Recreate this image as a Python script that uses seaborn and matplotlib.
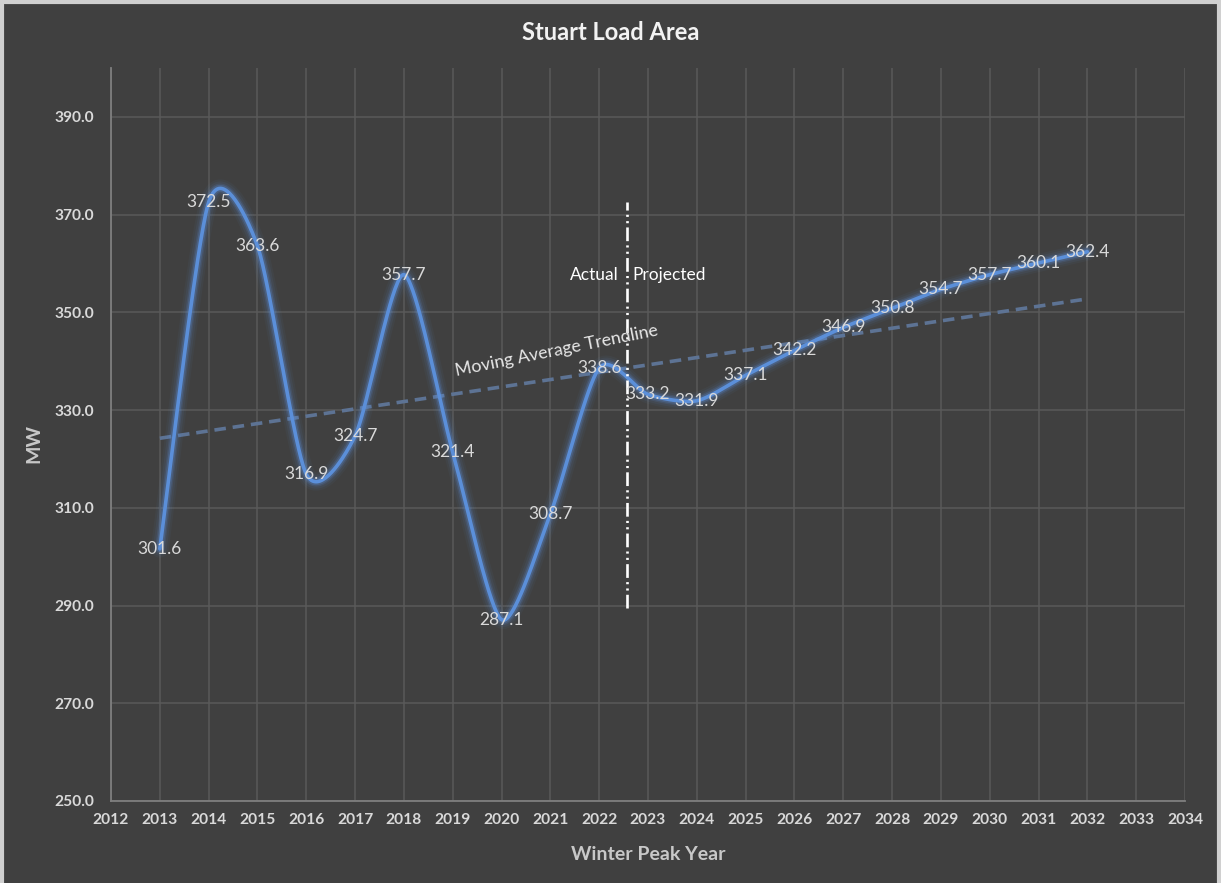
import numpy as np
import pandas as pd
import matplotlib
matplotlib.use("Agg")
import matplotlib.pyplot as plt
from matplotlib.lines import Line2D
import seaborn as sns

# Winter peak load, Stuart load area (MW)
years = [2013, 2014, 2015, 2016, 2017, 2018, 2019, 2020, 2021, 2022,
         2023, 2024, 2025, 2026, 2027, 2028, 2029, 2030, 2031, 2032]
peak_mw = [301.6, 372.5, 363.6, 316.9, 324.7, 357.7, 321.4, 287.1, 308.7, 338.6,
           333.2, 331.9, 337.1, 342.2, 346.9, 350.8, 354.7, 357.7, 360.1, 362.4]

# Boundary between recorded and forecast years
divider_x = [2022.57, 2022.57]
divider_y = [289.5, 372.5]

x_ticks = list(range(2012, 2035))
y_ticks = [250, 270, 290, 310, 330, 350, 370, 390]

BG = "#404040"
GRID = "#5a5a5a"
TEXT = "#d9d9d9"
LINE = "#5b8fd9"

sns.set_theme(style="dark", rc={
    "figure.facecolor": BG,
    "axes.facecolor": BG,
    "axes.edgecolor": "#808080",
    "grid.color": GRID,
    "text.color": TEXT,
    "xtick.color": TEXT,
    "ytick.color": TEXT,
    "axes.labelcolor": "#c8c8c8",
})
plt.rcParams["font.family"] = ["Lato", "DejaVu Sans"]


def smooth_curve(xs, ys, k=0.125, n=40):
    """Piecewise cubic Bezier through every point (Catmull-Rom style tangents)."""
    P = np.column_stack([xs, ys]).astype(float)
    m = len(P)
    out = []
    t = np.linspace(0, 1, n)[:, None]
    for i in range(m - 1):
        p_prev = P[i - 1] if i > 0 else P[i]
        p_next = P[i + 2] if i + 2 < m else P[i + 1]
        c1 = P[i] + (P[i + 1] - p_prev) * k
        c2 = P[i + 1] - (p_next - P[i]) * k
        seg = ((1 - t) ** 3) * P[i] + 3 * ((1 - t) ** 2) * t * c1 \
            + 3 * (1 - t) * t ** 2 * c2 + t ** 3 * P[i + 1]
        out.append(seg if i == 0 else seg[1:])
    return np.vstack(out)


df = pd.DataFrame({"year": years, "mw": peak_mw})
curve = smooth_curve(df["year"], df["mw"])
curve_df = pd.DataFrame({"year": curve[:, 0], "mw": curve[:, 1]})

fig = plt.figure(figsize=(12.21, 8.83), dpi=100)
ax = fig.add_axes([0.0909, 0.0929, 0.8796, 0.8301])

# Soft glow beneath the load curve
for lw, a in [(13, 0.05), (10, 0.08), (7, 0.14), (5, 0.25)]:
    ax.plot(curve_df["year"], curve_df["mw"], color=LINE, lw=lw, alpha=a,
            solid_capstyle="round", zorder=3)
sns.lineplot(data=curve_df, x="year", y="mw", sort=False, estimator=None,
             color=LINE, lw=2.6, ax=ax, zorder=4)

# Linear trend across all years
sns.regplot(data=df, x="year", y="mw", scatter=False, ci=None, ax=ax,
            line_kws=dict(color="#5d7394", lw=2.6, dashes=(3.2, 1.9), zorder=2))

# Actual / projected divider
div = Line2D(divider_x, divider_y, color="white", lw=1.9, zorder=5)
div.set_dashes((5.2, 1.6, 0.8, 1.6, 0.8, 1.6))
ax.add_line(div)

# Value labels
for x, y in zip(years, peak_mw):
    ax.text(x, y, f"{y:.1f}", ha="center", va="center", fontsize=12.5,
            color=TEXT, zorder=6)

ax.text(2022.40, 357.7, "Actual", ha="right", va="center", fontsize=12.5,
        color="white", zorder=6)
ax.text(2022.69, 357.7, "Projected", ha="left", va="center", fontsize=12.5,
        color="white", zorder=6)
ax.text(2021.13, 342.2, "Moving Average Trendline", ha="center", va="center",
        rotation=11.4, rotation_mode="anchor", fontsize=12.8, color="#e6e6e6",
        zorder=6)

ax.set_xlim(2012, 2034)
ax.set_ylim(250, 400)
ax.set_xticks(x_ticks)
ax.set_xticklabels([str(v) for v in x_ticks], fontsize=11.2, fontweight="bold")
ax.set_yticks(y_ticks)
ax.set_yticklabels([f"{v:.1f}" for v in y_ticks], fontsize=11.2,
                   fontweight="bold")
ax.tick_params(axis="both", length=0, pad=9)
ax.tick_params(axis="y", pad=12)

ax.grid(True, axis="both", color=GRID, lw=1.1)
ax.set_axisbelow(True)
for side in ["top", "right"]:
    ax.spines[side].set_visible(False)
for side in ["left", "bottom"]:
    ax.spines[side].set_color("#7f7f7f")
    ax.spines[side].set_linewidth(1.3)

ax.set_xlabel("Winter Peak Year", fontsize=14, fontweight="bold")
ax.set_ylabel("MW", fontsize=14, fontweight="bold")
ax.xaxis.set_label_coords(0.5, -0.061)
ax.yaxis.set_label_coords(-0.064, 0.488)

fig.text(0.5, 1 - 33 / 883, "Stuart Load Area", ha="center", va="center",
         fontsize=17, fontweight="bold", color="#f2f2f2")

# Light frame on the outer edge of the figure
for xs, ys in [([0.002, 0.002], [0, 1]), ([0, 1], [0.998, 0.998]),
               ([0.998, 0.998], [0, 1])]:
    fig.add_artist(Line2D(xs, ys, transform=fig.transFigure, color="#d0d0d0",
                          lw=3))

fig.savefig("out.png", dpi=100, facecolor=BG)
